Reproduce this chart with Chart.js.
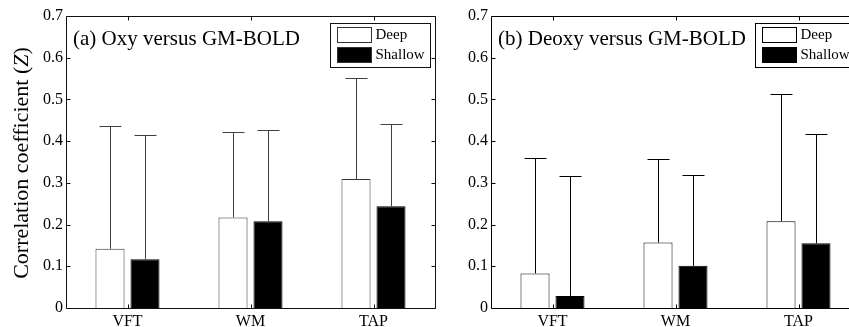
<!DOCTYPE html>
<html>
<head>
<meta charset="utf-8">
<script src="https://cdn.jsdelivr.net/npm/chart.js@4.4.1/dist/chart.umd.min.js"></script>
<style>
  html, body { margin: 0; padding: 0; background: #fff; overflow: hidden; }
  body { width: 849px; height: 327px; position: relative; }
  .panel { position: absolute; top: 0; height: 327px; }
  #panelA { left: 0; width: 440px; }
  #panelB { left: 440px; width: 430px; }
</style>
</head>
<body>
<div class="panel" id="panelA"><canvas id="chartA"></canvas></div>
<div class="panel" id="panelB"><canvas id="chartB"></canvas></div>
<script>
// ---- Data ----
const categories = ["VFT", "WM", "TAP"];
const seriesNames = ["Deep", "Shallow"];
const yTickLabels = ["0", "0.1", "0.2", "0.3", "0.4", "0.5", "0.6", "0.7"];

// (a) Oxy versus GM-BOLD: bar means and upper end of error bars
const oxyDeep = [0.142, 0.217, 0.309];
const oxyDeepUpper = [0.436, 0.422, 0.551];
const oxyShallow = [0.117, 0.208, 0.244];
const oxyShallowUpper = [0.415, 0.426, 0.441];

// (b) Deoxy versus GM-BOLD
const deoxyDeep = [0.083, 0.157, 0.208];
const deoxyDeepUpper = [0.359, 0.356, 0.512];
const deoxyShallow = [0.029, 0.101, 0.155];
const deoxyShallowUpper = [0.316, 0.320, 0.418];

const FONT = "'Liberation Serif', 'Times New Roman', serif";

// draws error bars, box frame with inward ticks, panel title and legend
const decorPlugin = {
  id: "decor",
  afterDatasetsDraw(chart, args, opts) {
    const ctx = chart.ctx;
    const area = chart.chartArea;
    const yScale = chart.scales.y;
    const xScale = chart.scales.x;
    ctx.save();

    // error bars (upper only)
    ctx.strokeStyle = opts.errColor;
    ctx.lineWidth = 1;
    chart.data.datasets.forEach((ds, i) => {
      const meta = chart.getDatasetMeta(i);
      meta.data.forEach((el, j) => {
        const x = Math.round(el.x) + 0.5;
        const yTop = Math.round(yScale.getPixelForValue(ds.upper[j])) + 0.5;
        ctx.beginPath();
        ctx.moveTo(x, el.y);
        ctx.lineTo(x, yTop);
        ctx.moveTo(x - 11, yTop);
        ctx.lineTo(x + 11, yTop);
        ctx.stroke();
      });
    });

    // frame
    const L = Math.round(area.left) + 0.5, R = Math.round(area.right) + 0.5;
    const T = Math.round(area.top) + 0.5, B = Math.round(area.bottom) + 0.5;
    ctx.strokeStyle = opts.frameColor;
    ctx.beginPath();
    ctx.rect(L, T, R - L, B - T);
    // y ticks on both sides
    yScale.ticks.forEach((t) => {
      const y = Math.round(yScale.getPixelForValue(t.value)) + 0.5;
      ctx.moveTo(L, y); ctx.lineTo(L + 4, y);
      ctx.moveTo(R, y); ctx.lineTo(R - 4, y);
    });
    // x ticks top and bottom
    categories.forEach((c, i) => {
      const x = Math.round(xScale.getPixelForValue(i)) + 0.5;
      ctx.moveTo(x, B); ctx.lineTo(x, B - 4);
      ctx.moveTo(x, T); ctx.lineTo(x, T + 4);
    });
    ctx.stroke();

    // panel title
    ctx.fillStyle = "#000";
    ctx.font = "21px " + FONT;
    ctx.textBaseline = "middle";
    ctx.textAlign = "left";
    ctx.fillText(opts.title, area.left + 7, area.top + 23);

    // legend box
    const bx = Math.round(area.right - 105) + 0.5, by = Math.round(area.top + 7) + 0.5;
    const bw = 100, bh = 44;
    ctx.fillStyle = "#fff";
    ctx.fillRect(bx, by, bw, bh);
    ctx.strokeStyle = opts.frameColor;
    ctx.strokeRect(bx, by, bw, bh);
    ctx.font = "15px " + FONT;
    chart.data.datasets.forEach((ds, i) => {
      const sy = by + 4 + i * 20;
      ctx.fillStyle = ds.backgroundColor;
      ctx.fillRect(bx + 7, sy, 34, 15);
      ctx.strokeStyle = opts.barBorder;
      ctx.strokeRect(bx + 7, sy, 34, 15);
      ctx.fillStyle = "#000";
      ctx.fillText(ds.label, bx + 45, sy + 8);
    });

    // y axis title with italic Z
    if (opts.yTitle) {
      ctx.translate(22, 163);
      ctx.rotate(-Math.PI / 2);
      const parts = [["Correlation coefficient (", "22px "], ["Z", "italic 22px "], [")", "22px "]];
      let total = 0;
      parts.forEach((p) => { ctx.font = p[1] + FONT; total += ctx.measureText(p[0]).width; });
      let x = -total / 2;
      ctx.fillStyle = "#000";
      parts.forEach((p) => {
        ctx.font = p[1] + FONT;
        ctx.fillText(p[0], x, 0);
        x += ctx.measureText(p[0]).width;
      });
    }
    ctx.restore();
  }
};

function makeChart(id, deep, deepUpper, shallow, shallowUpper, opts) {
  return new Chart(document.getElementById(id), {
    type: "bar",
    data: {
      labels: categories,
      datasets: [
        { label: seriesNames[0], data: deep, upper: deepUpper,
          backgroundColor: "#ffffff", borderColor: opts.barBorder, borderWidth: 1 },
        { label: seriesNames[1], data: shallow, upper: shallowUpper,
          backgroundColor: "#000000", borderColor: "#000000", borderWidth: 1 }
      ]
    },
    options: {
      responsive: true,
      maintainAspectRatio: false,
      animation: false,
      layout: { padding: { top: 16, right: opts.padRight, left: 0, bottom: 0 } },
      datasets: { bar: { categoryPercentage: 0.569, barPercentage: 0.83 } },
      plugins: {
        legend: { display: false },
        tooltip: { enabled: false },
        decor: opts
      },
      scales: {
        x: {
          grid: { display: false, drawTicks: false },
          border: { display: false },
          ticks: { color: "#000", font: { family: FONT, size: 16 }, padding: 4 },
          afterFit(s) { s.height = 19; }
        },
        y: {
          min: 0, max: 0.7,
          grid: { display: false, drawTicks: false },
          border: { display: false },
          ticks: {
            stepSize: 0.1, color: "#000", padding: 3,
            font: { family: FONT, size: 16 },
            callback: (v, i) => yTickLabels[i]
          },
          afterFit(s) { s.width = opts.yWidth; }
        }
      }
    },
    plugins: [decorPlugin]
  });
}

makeChart("chartA", oxyDeep, oxyDeepUpper, oxyShallow, oxyShallowUpper, {
  title: "(a) Oxy versus GM-BOLD", errColor: "#404040", frameColor: "#111",
  barBorder: "#333", padRight: 5, yWidth: 66, yTitle: true
});
makeChart("chartB", deoxyDeep, deoxyDeepUpper, deoxyShallow, deoxyShallowUpper, {
  title: "(b) Deoxy versus GM-BOLD", errColor: "#000", frameColor: "#000",
  barBorder: "#000", padRight: 10, yWidth: 51, yTitle: false
});
</script>
</body>
</html>
